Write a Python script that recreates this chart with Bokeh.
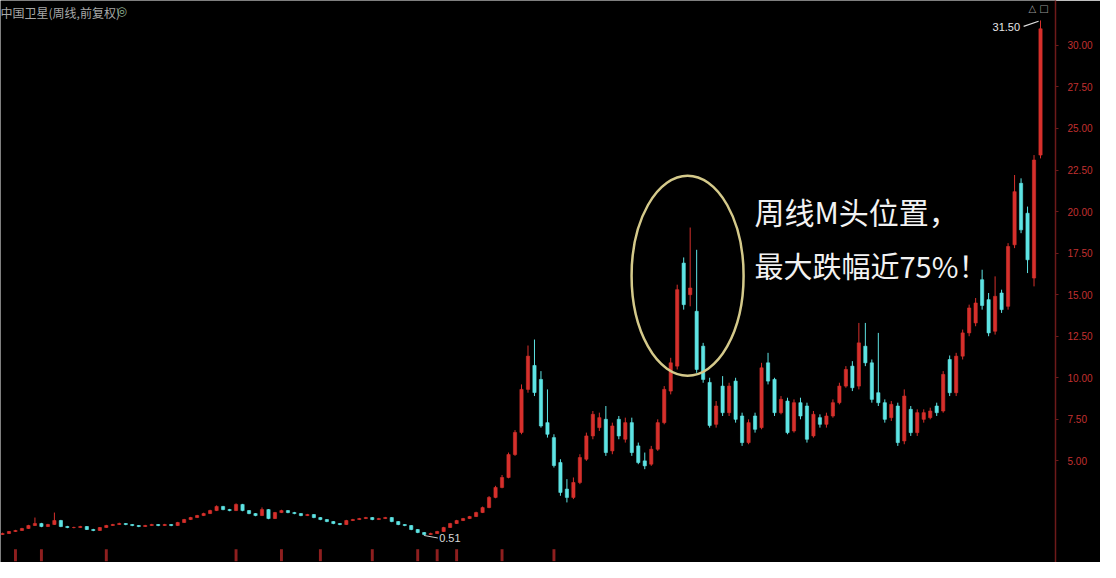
import numpy as np
from bokeh.plotting import figure
from bokeh.models import (Range1d, LinearAxis, FixedTicker, NumeralTickFormatter,
                          Label, ColumnDataSource)
from bokeh.embed import file_html
from bokeh.resources import INLINE

# ---------------- data (weekly candles, forward-adjusted) ----------------
TITLE = "中国卫星(周线,前复权)"
NOTE_1 = "周线M头位置，"
NOTE_2 = "最大跌幅近75%！"
PRICE_TICKS = [5.0, 7.5, 10.0, 12.5, 15.0, 17.5, 20.0, 22.5, 25.0, 27.5, 30.0]

OPEN = [
    0.57, 0.63, 0.75, 0.81, 0.93, 1.11, 1.23, 1.05, 1.17, 1.41,
    1.05, 0.99, 0.99, 1.05, 0.87, 0.81, 0.99, 1.11, 1.17, 1.23,
    1.17, 1.11, 1.05, 1.11, 1.17, 1.11, 1.17, 1.11, 1.29, 1.47,
    1.59, 1.71, 1.83, 2.01, 2.26, 2.07, 2.01, 2.38, 2.01, 1.83,
    1.71, 2.07, 1.53, 1.89, 2.01, 1.89, 1.83, 1.71, 1.77, 1.59,
    1.47, 1.35, 1.23, 1.17, 1.41, 1.47, 1.53, 1.59, 1.47, 1.53,
    1.59, 1.35, 1.17, 1.11, 0.87, 0.69, 0.57, 0.63, 0.75, 0.99,
    1.23, 1.41, 1.53, 1.65, 1.89, 2.19, 2.80, 3.40, 4.00, 5.38,
    6.71, 9.30, 10.74, 9.90, 7.30, 6.40, 4.90, 3.30, 2.80, 3.70,
    5.10, 6.50, 7.00, 7.50, 5.60, 7.50, 6.30, 7.30, 5.90, 5.00,
    4.80, 5.70, 7.30, 9.20, 10.70, 16.90, 15.00, 14.00, 11.90, 9.72,
    7.20, 9.50, 7.90, 9.80, 7.70, 6.10, 7.70, 7.00, 10.90, 9.90,
    7.90, 8.60, 6.80, 8.50, 8.30, 6.50, 7.60, 7.20, 7.70, 8.50,
    9.50, 10.70, 9.50, 11.90, 10.90, 9.10, 8.50, 7.60, 8.30, 6.20,
    8.10, 6.70, 7.50, 7.60, 8.30, 8.00, 11.10, 9.10, 11.30, 12.70,
    13.30, 15.90, 14.70, 12.80, 15.10, 14.30, 18.00, 21.70, 19.90, 16.00,
    23.40,
]
HIGH = [
    0.68, 0.78, 0.85, 0.97, 1.15, 1.59, 1.27, 1.21, 1.89, 1.45,
    1.09, 1.04, 1.09, 1.08, 0.91, 1.02, 1.15, 1.21, 1.28, 1.26,
    1.20, 1.14, 1.15, 1.21, 1.20, 1.21, 1.20, 1.33, 1.51, 1.63,
    1.75, 1.88, 2.06, 2.32, 2.29, 2.11, 2.44, 2.41, 2.04, 1.86,
    2.20, 2.10, 1.93, 2.06, 2.04, 1.93, 1.86, 1.81, 1.80, 1.62,
    1.50, 1.38, 1.26, 1.45, 1.51, 1.57, 1.63, 1.62, 1.57, 1.63,
    1.62, 1.38, 1.20, 1.14, 0.90, 0.72, 0.68, 0.79, 1.03, 1.27,
    1.45, 1.57, 1.69, 1.94, 2.25, 2.88, 3.50, 4.15, 5.50, 6.85,
    9.60, 11.94, 12.30, 10.40, 9.30, 6.60, 5.10, 3.90, 4.00, 5.40,
    6.70, 8.00, 7.90, 8.30, 7.30, 7.70, 7.60, 7.60, 6.10, 5.50,
    5.90, 7.50, 9.50, 11.20, 15.60, 17.24, 19.04, 17.70, 12.10, 10.00,
    8.60, 10.10, 9.70, 10.00, 7.90, 7.50, 7.90, 10.90, 11.50, 10.00,
    8.90, 8.80, 8.70, 8.80, 8.50, 8.00, 7.80, 7.90, 8.70, 9.70,
    10.70, 11.00, 13.30, 13.30, 11.10, 12.70, 8.70, 8.60, 8.50, 9.30,
    8.30, 8.10, 8.10, 8.20, 8.50, 10.40, 11.34, 11.50, 12.90, 14.40,
    14.80, 16.50, 15.10, 16.10, 15.30, 18.10, 22.20, 22.00, 20.30, 23.40,
    31.50,
]
LOW = [
    0.54, 0.60, 0.72, 0.79, 0.90, 1.08, 1.01, 1.02, 1.14, 1.01,
    0.95, 0.94, 0.96, 0.84, 0.77, 0.79, 0.96, 1.08, 1.14, 1.13,
    1.07, 1.01, 1.02, 1.08, 1.07, 1.08, 1.07, 1.08, 1.26, 1.44,
    1.56, 1.68, 1.80, 1.98, 2.03, 1.97, 1.98, 1.97, 1.79, 1.67,
    1.68, 1.49, 1.50, 1.86, 1.85, 1.79, 1.67, 1.68, 1.55, 1.43,
    1.31, 1.19, 1.13, 1.14, 1.38, 1.44, 1.50, 1.43, 1.44, 1.50,
    1.31, 1.13, 1.07, 0.83, 0.65, 0.51, 0.54, 0.60, 0.72, 0.96,
    1.20, 1.38, 1.50, 1.62, 1.86, 2.15, 2.75, 3.35, 3.95, 5.30,
    6.60, 9.10, 8.90, 7.00, 6.40, 4.60, 2.90, 2.50, 2.70, 3.60,
    5.00, 6.30, 6.80, 5.30, 5.40, 6.30, 6.10, 5.30, 4.80, 4.50,
    4.70, 5.60, 7.20, 9.00, 10.50, 14.10, 14.30, 10.30, 9.70, 7.00,
    7.00, 7.70, 7.70, 7.30, 5.90, 6.00, 6.70, 6.90, 9.60, 7.70,
    7.80, 6.60, 6.70, 7.50, 6.10, 6.40, 7.00, 7.00, 7.60, 8.40,
    9.40, 9.20, 9.30, 10.70, 8.50, 8.30, 7.30, 7.40, 5.90, 6.00,
    6.50, 6.50, 7.30, 7.50, 7.70, 7.90, 8.90, 8.90, 11.10, 12.50,
    13.10, 14.10, 12.50, 12.60, 13.90, 14.10, 17.80, 18.70, 16.30, 15.50,
    23.20,
]
CLOSE = [
    0.63, 0.75, 0.81, 0.93, 1.11, 1.23, 1.05, 1.17, 1.41, 1.05,
    0.99, 0.99, 1.05, 0.87, 0.81, 0.99, 1.11, 1.17, 1.23, 1.17,
    1.11, 1.05, 1.11, 1.17, 1.11, 1.17, 1.11, 1.29, 1.47, 1.59,
    1.71, 1.83, 2.01, 2.26, 2.07, 2.01, 2.38, 2.01, 1.83, 1.71,
    2.07, 1.53, 1.89, 2.01, 1.89, 1.83, 1.71, 1.77, 1.59, 1.47,
    1.35, 1.23, 1.17, 1.41, 1.47, 1.53, 1.59, 1.47, 1.53, 1.59,
    1.35, 1.17, 1.11, 0.87, 0.69, 0.57, 0.63, 0.75, 0.99, 1.23,
    1.41, 1.53, 1.65, 1.89, 2.19, 2.80, 3.40, 4.00, 5.38, 6.71,
    9.30, 11.30, 9.11, 7.10, 6.60, 4.72, 3.10, 2.80, 3.70, 5.20,
    6.50, 7.80, 7.60, 5.50, 7.10, 6.50, 7.30, 5.50, 4.90, 4.70,
    5.70, 7.30, 9.30, 10.90, 15.30, 14.40, 15.40, 10.50, 9.90, 7.13,
    8.30, 7.90, 9.50, 7.50, 6.10, 7.30, 6.90, 10.60, 9.80, 7.90,
    8.70, 6.70, 8.50, 7.70, 6.30, 7.80, 7.20, 7.70, 8.50, 9.50,
    10.50, 9.40, 12.10, 10.90, 8.70, 8.50, 7.50, 8.40, 6.10, 8.90,
    6.70, 7.90, 7.90, 8.00, 7.90, 10.20, 9.10, 11.30, 12.70, 14.20,
    14.50, 14.35, 12.70, 14.90, 14.10, 17.90, 21.20, 18.90, 17.10, 23.10,
    31.00,
]
# weeks carrying the small red markers along the bottom edge
MARKER_WEEKS = [2, 6, 16, 36, 43, 49, 57, 64, 67, 70, 77, 85]

# ---------------- styling ----------------
UP_COLOR = "#d6302c"
DOWN_COLOR = "#5ee4e4"
AXIS_RED = "#6e1a1a"
LABEL_RED = "#c23030"
ELLIPSE_COLOR = "#d4c98a"
ELLIPSE_DROP = 2.9

o = np.array(OPEN)
h = np.array(HIGH)
l = np.array(LOW)
c = np.array(CLOSE)
n = len(c)
idx = np.arange(n)
up = c >= o
src = ColumnDataSource(dict(
    x=idx, high=h, low=l,
    top=np.maximum(o, c), bottom=np.minimum(o, c),
    color=np.where(up, UP_COLOR, DOWN_COLOR),
))

y_lo, y_hi = -1.115, 32.70
p = figure(width=1100, height=562, output_backend="svg", toolbar_location=None,
           x_range=Range1d(-0.308, n + 1.31), y_range=Range1d(y_lo, y_hi),
           x_axis_location=None, y_axis_location=None,
           min_border_left=0, min_border_right=45, min_border_top=0, min_border_bottom=0,
           background_fill_color="black", border_fill_color="black",
           outline_line_color=None)
p.grid.visible = False

# candles
p.segment(x0="x", y0="high", x1="x", y1="low", color="color", line_width=1, source=src)
p.vbar(x="x", width=0.5, top="top", bottom="bottom", fill_color="color",
       line_color="color", line_width=0.6, source=src)

# bottom markers
p.vbar(x=MARKER_WEEKS, width=0.45, top=y_lo + 0.8, bottom=y_lo + 0.08,
       fill_color="#a82424", line_color=None, fill_alpha=0.85)

# right price axis
ax = LinearAxis(ticker=FixedTicker(ticks=PRICE_TICKS),
                formatter=NumeralTickFormatter(format="0.00"),
                axis_line_color=AXIS_RED, axis_line_width=1.5,
                major_tick_line_color=AXIS_RED, major_tick_out=3, major_tick_in=0,
                minor_tick_line_color=None,
                major_label_text_color=LABEL_RED, major_label_text_font_size="10px",
                major_label_text_font="Liberation Sans", major_label_standoff=9)
p.add_layout(ax, "right")

# extreme value labels
top_i = int(np.argmax(h))
low_i = int(np.argmin(l))
p.text(x=[top_i], y=[h[top_i]], text=[f"{h[top_i]:.2f}"], x_offset=-48, y_offset=7,
       text_font_size="11px", text_color="#e6e6e6", text_baseline="middle",
       text_align="left")
p.segment(x0=[top_i - 2.6], y0=[h[top_i] - 0.36], x1=[top_i - 0.3], y1=[h[top_i] - 0.05],
          line_color="#e0e0e0", line_width=1.2)
p.text(x=[low_i], y=[l[low_i]], text=[f"{l[low_i]:.2f}"], x_offset=15, y_offset=3,
       text_font_size="11px", text_color="#d8d8d8", text_baseline="middle",
       text_align="left")
p.segment(x0=[low_i], y0=[l[low_i]], x1=[low_i + 2.1], y1=[l[low_i] - 0.15],
          line_color="#d0d0d0", line_width=1)

# M-head ellipse around the double top
mid_i = 100 + int(np.argmax(h[100:115]))
p.ellipse(x=[mid_i - 0.4], y=[h[mid_i] - ELLIPSE_DROP], width=112, height=200,
          width_units="screen", height_units="screen",
          fill_color=None, line_color=ELLIPSE_COLOR, line_width=2.5)

# texts
p.add_layout(Label(x=0, y=559, x_units="screen", y_units="screen", text=TITLE,
                   text_baseline="top", text_font="Noto Sans CJK SC",
                   text_font_size="12px", text_color="#a8a8a8"))
p.add_layout(Label(x=116, y=559, x_units="screen", y_units="screen", text="◎",
                   text_baseline="top", text_font="DejaVu Sans",
                   text_font_size="12px", text_color="#8fae8f"))
p.add_layout(Label(x=1028, y=560, x_units="screen", y_units="screen", text="△ □",
                   text_baseline="top", text_font="DejaVu Sans",
                   text_font_size="10px", text_color="#9a9a9a"))
p.add_layout(Label(x=754, y=352, x_units="screen", y_units="screen", text=NOTE_1,
                   text_baseline="middle", text_font="Noto Sans CJK SC",
                   text_font_size="30px", text_color="#f2f2f2"))
p.add_layout(Label(x=754, y=298, x_units="screen", y_units="screen", text=NOTE_2,
                   text_baseline="middle", text_font="Noto Sans CJK SC",
                   text_font_size="29px", text_color="#f2f2f2"))

open("out.html", "w").write(file_html(p, INLINE, title="chart"))
